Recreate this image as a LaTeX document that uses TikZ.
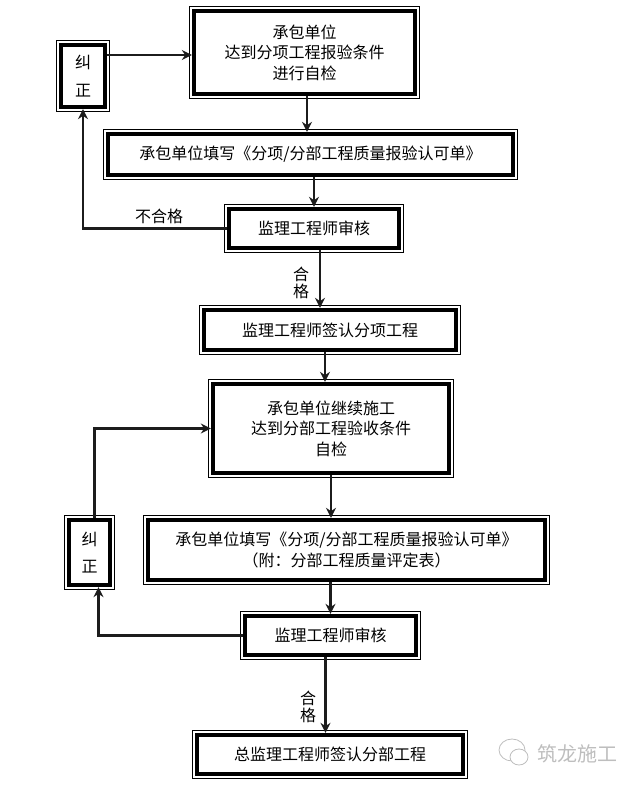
\documentclass[tikz,border=0pt]{standalone}
\usepackage{fontspec}
\usepackage{xcolor}
\usepackage{tikz}
\usetikzlibrary{positioning,arrows.meta,calc}
\setmainfont{Noto Sans CJK SC}
\definecolor{linecolor}{RGB}{28,28,28}
\definecolor{markcolor}{RGB}{190,190,190}
\tikzset{
  flow box/.style={
    rectangle,
    draw=black,
    line width=3.8pt,
    inner sep=0pt,
    align=center,
    font=\fontsize{16}{20.5}\selectfont
  },
  outer line/.style={
    draw=black,
    line width=0.8pt
  },
  flow text/.style={
    inner sep=0pt,
    align=center,
    font=\fontsize{16}{17}\selectfont
  },
  mark text/.style={
    inner sep=0pt,
    text=markcolor,
    font=\fontsize{20}{20}\selectfont
  },
  arrow/.style={
    -{Stealth[length=10pt,width=10pt]},
    draw=linecolor,
    line width=2.9pt
  }
}
\begin{document}
\begin{tikzpicture}[x=1pt,y=-1pt]
  \useasboundingbox (0,0) rectangle (640,786);

  % upper part
  \node[flow box, minimum width=221.5, minimum height=83.5] (apply) at (304.5,52.5) {承包单位\\达到分项工程报验条件\\进行自检};
  \node[flow box, minimum width=405.5, minimum height=41.5] (form) at (310.5,154.5) {承包单位填写《分项/分部工程质量报验认可单》};
  \node[flow box, minimum width=170.5, minimum height=39.5] (check) at (314,228.5) {监理工程师审核};
  \node[flow box, minimum width=252.5, minimum height=40.5] (sign) at (330,330) {监理工程师签认分项工程};
  \node[flow box, minimum width=44.5, minimum height=62.5] (fix) at (83,76) {纠\\[7pt]正};

  % lower part
  \node[flow box, minimum width=236.5, minimum height=89.5] (next) at (331,428.5) {承包单位继续施工\\达到分部工程验收条件\\自检};
  \node[flow box, minimum width=397.5, minimum height=60.5] (formb) at (346.5,550) {承包单位填写《分项/分部工程质量报验认可单》\\（附：分部工程质量评定表）};
  \node[flow box, minimum width=171.5, minimum height=39.5] (checkb) at (330.5,635.5) {监理工程师审核};
  \node[flow box, minimum width=266.5, minimum height=39.5] (chief) at (330,754.5) {总监理工程师签认分部工程};
  \node[flow box, minimum width=41.5, minimum height=65.5] (fixb) at (89.5,552.5) {纠\\[7pt]正};

  % thin outer frames
  \foreach \n in {apply,form,check,sign,fix,next,formb,checkb,chief,fixb}
    \draw[outer line] ([shift={(-2pt,-2pt)}]\n.south west) rectangle ([shift={(2pt,2pt)}]\n.north east);

  % labels
  \node[flow text] (failed) at (159,216) {不合格};
  \node[flow text] (passed) at (301,283) {合\\格};
  \node[flow text] (passedb) at (308,707) {合\\格};

  % upper arrows
  \draw[arrow] ([yshift=-2.5pt]apply.west -| fix.east) -- ([yshift=-2.5pt]apply.west);
  \draw[arrow] ([xshift=2.5pt]apply.south) -- ([xshift=2.5pt]apply.south |- form.north);
  \draw[arrow] (check.north |- form.south) -- (check.north);
  \draw[arrow] ([xshift=6pt]check.south) -- ([xshift=6pt]check.south |- sign.north);
  \draw[arrow] (check.west) -| (fix.south);

  % lower arrows
  \draw[arrow] ([xshift=-5pt]sign.south) -- ([xshift=-5pt]sign.south |- next.north);
  \draw[arrow] (next.south) -- (next.south |- formb.north);
  \draw[arrow] (checkb.north |- formb.south) -- (checkb.north);
  \draw[arrow] ([xshift=-5pt]checkb.south) -- ([xshift=-5pt]checkb.south |- chief.north);
  \draw[arrow] (checkb.west) -| ([xshift=9pt]fixb.south);
  \draw[arrow] ([xshift=5pt]fixb.north) |- (next.west);

  % watermark
  \draw[markcolor, line width=0.8pt] (512,750) ellipse (13pt and 11pt);
  \draw[markcolor, fill=white, line width=0.8pt] (519,757) ellipse (9pt and 8pt);
  \node[mark text] (mark) at (577,754) {筑龙施工};
\end{tikzpicture}
\end{document}
